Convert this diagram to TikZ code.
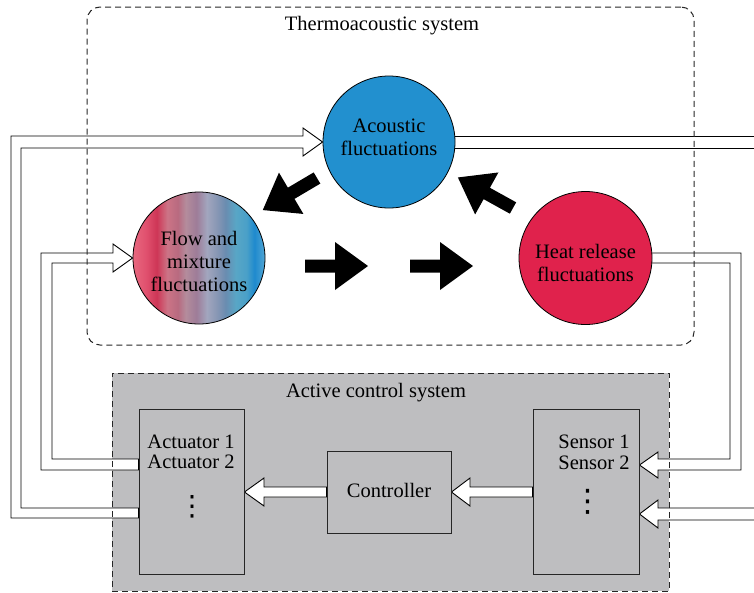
\documentclass[tikz,border=0pt]{standalone}
\usepackage{fontspec}
\setmainfont{Liberation Serif}
\newfontfamily\symfont{DejaVu Sans}
\usetikzlibrary{calc}
\pgfdeclarelayer{bottom}
\pgfdeclarelayer{behind}
\pgfsetlayers{bottom,behind,main}
\definecolor{acblue}{HTML}{2290CF}
\definecolor{heatred}{HTML}{E0224C}
\definecolor{boxgray}{HTML}{BEBEC0}
\definecolor{fa}{HTML}{E8687F}
\definecolor{fb}{HTML}{E0506E}
\definecolor{fc}{HTML}{CE3656}
\definecolor{fd}{HTML}{CC7486}
\definecolor{fe}{HTML}{B86A80}
\definecolor{ff}{HTML}{B48C9C}
\definecolor{fg}{HTML}{9E7C98}
\definecolor{fh}{HTML}{A2A6BE}
\definecolor{fi}{HTML}{8696B4}
\definecolor{fj}{HTML}{6A8CB0}
\definecolor{fk}{HTML}{58A6C6}
\definecolor{fl}{HTML}{4AA0C8}
\definecolor{fm}{HTML}{1E8ACE}
\definecolor{fn}{HTML}{52A6D4}
\pgfdeclarehorizontalshading{flowshade}{100bp}{color(0bp)=(fa); color(25bp)=(fa); color(30bp)=(fb); color(34bp)=(fc); color(38bp)=(fd); color(42bp)=(fe); color(45bp)=(ff); color(49bp)=(fg); color(53bp)=(fh); color(57bp)=(fi); color(60bp)=(fj); color(64bp)=(fk); color(68bp)=(fl); color(71bp)=(fm); color(75bp)=(fn); color(100bp)=(fn)}
\tikzset{
  lab/.style={font=\fontsize{20.5}{23}\selectfont, align=center, inner sep=0pt},
  dotcol/.style={inner sep=0pt, font=\symfont\fontsize{#1}{#1}\selectfont},
  bubble/.style={circle, draw=black, line width=0.8pt, inner sep=0pt, minimum size=132pt},
  blockbox/.style={rectangle, draw=black!85, line width=0.9pt, fill=boxgray, inner sep=0pt},
  sysbox/.style={rectangle, draw=black!85, line width=1pt, dash pattern=on 6pt off 4pt, inner sep=0pt},
  hollow/.style={draw=black, line width=0.9pt, fill=white, line join=miter},
  blackarrow/.pic={\fill[black] (0,-6.5) -- (30,-6.5) -- (30,-24) -- (63,0) -- (30,24) -- (30,6.5) -- (0,6.5) -- cycle;}
}
\begin{document}
\begin{tikzpicture}[x=1pt,y=-1pt]
\useasboundingbox (0,0) rectangle (754,592);
% system boxes
\begin{pgfonlayer}{bottom}
\fill[boxgray] (112,373) rectangle (669,591);
\end{pgfonlayer}
\node[sysbox, rounded corners=13pt, minimum width=607pt, minimum height=338pt] (thermo) at (390.5,176) {};
\node[sysbox, minimum width=557pt, minimum height=218pt] (active) at (390.5,482) {};
\node[lab, anchor=base] (thermotitle) at (382,30) {Thermoacoustic system};
\node[lab, anchor=base] (activetitle) at (376,397) {Active control system};
% bubbles
\node[bubble, fill=acblue] (acoustic) at (389,142) {};
\node[bubble, shading=flowshade] (flow) at (199,258) {};
\node[bubble, fill=heatred, minimum size=133pt] (heat) at (585.5,258) {};
\node[lab] (acoustictext) at (389,137) {Acoustic\\fluctuations};
\node[lab] (flowtext) at (199,261) {Flow and\\mixture\\fluctuations};
\node[lab] (heattext) at (585.5,263) {Heat release\\fluctuations};
% blocks
\node[blockbox, minimum width=105pt, minimum height=165pt] (actuator) at (191.5,491.5) {};
\node[blockbox, minimum width=106pt, minimum height=165pt] (sensor) at (586,491.5) {};
\node[blockbox, minimum width=124pt, minimum height=82pt] (controller) at (389,492) {};
\node[lab, anchor=base] (act1) at (191,448) {Actuator 1};
\node[lab, anchor=base] (act2) at (191,468) {Actuator 2};
\node[lab, anchor=base] (sen1) at (594,448) {Sensor 1};
\node[lab, anchor=base] (sen2) at (594,469) {Sensor 2};
\node[dotcol=28] (actdots) at (192,507) {⋮};
\node[dotcol=31] (sendots) at (588,501.5) {⋮};
\node[lab, anchor=base] (contrtext) at (389,497) {Controller};
% black interaction arrows
\pic (ba1) at (305,266) {blackarrow};
\pic (ba2) at (410,266) {blackarrow};
\pic[rotate=210.6] (ba3) at (317,178) {blackarrow};
\pic[rotate=151] (ba4) at (513,208) {blackarrow};
% hollow signal arrows
\begin{pgfonlayer}{behind}
\draw[hollow] (actuator.west |- 0,518) -- (11,518) -- (11,136) -- (303,136) -- (303,128) -- (acoustic.west) -- (303,156) -- (303,148) -- (21,148) -- (21,508) -- (actuator.west |- 0,508) -- cycle;
\draw[hollow] (actuator.west |- 0,470) -- (41,470) -- (41,253) -- (113,253) -- (113,244) -- (flow.west) -- (113,272) -- (113,263) -- (52,263) -- (52,459) -- (actuator.west |- 0,459) -- cycle;
\draw[hollow] (acoustic.center |- 0,136) -- (770,136) -- (770,148) -- (acoustic.center |- 0,148) -- cycle;
\draw[hollow] (770,508) -- (658,508) -- (658,500) -- (sensor.east |- 0,514) -- (658,528) -- (658,520) -- (770,520) -- cycle;
\draw[hollow] (heat.center |- 0,253) -- (741,253) -- (741,470) -- (658,470) -- (658,478) -- (sensor.east |- 0,465) -- (658,452) -- (658,459) -- (730,459) -- (730,263) -- (heat.center |- 0,263) -- cycle;
\draw[hollow] (controller.west |- 0,487) -- (264,487) -- (264,478) -- (actuator.east |- 0,492) -- (264,506) -- (264,497) -- (controller.west |- 0,497) -- cycle;
\draw[hollow] (sensor.west |- 0,487) -- (470,487) -- (470,478) -- (controller.east |- 0,492) -- (470,506) -- (470,497) -- (sensor.west |- 0,497) -- cycle;
\end{pgfonlayer}
\end{tikzpicture}
\end{document}
